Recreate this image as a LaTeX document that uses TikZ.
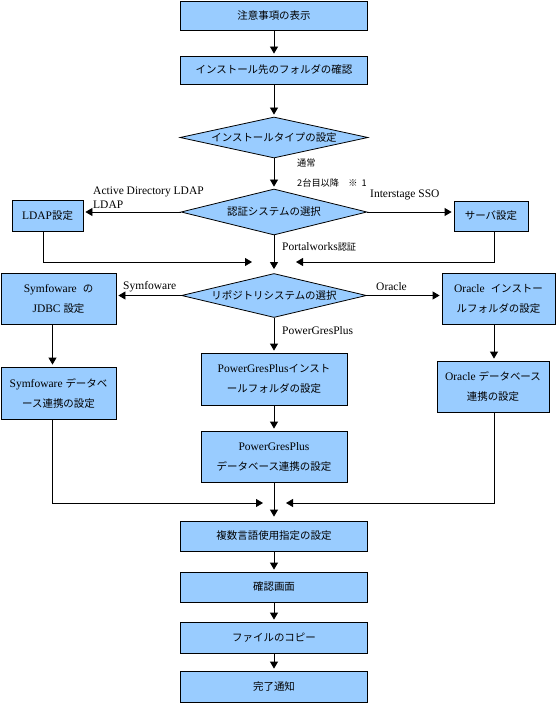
\documentclass[tikz,border=0pt]{standalone}
\usepackage{fontspec}
\setmainfont{Liberation Serif}
\newfontfamily\jp{Noto Sans CJK JP}[Scale=0.91]
\newfontfamily\jps{Noto Sans CJK JP}[Scale=0.8]
\newcommand\J[1]{{\jp #1}}
\newcommand\Js[1]{{\jps #1}}
\usetikzlibrary{shapes.geometric,arrows.meta}
\definecolor{boxblue}{HTML}{99CCFF}
\begin{document}
\begin{tikzpicture}[x=1pt,y=-1pt,
  box/.style={draw=black, fill=boxblue, line width=0.8pt, inner sep=0pt, align=center, font=\fontsize{11.5}{20}\selectfont},
  dia/.style={box, diamond, aspect=4.5},
  arr/.style={-{Triangle[width=8pt,length=7pt]}, line width=0.8pt, shorten >=2pt},
  lbl/.style={anchor=west, inner sep=0pt, font=\fontsize{11.5}{13}\selectfont}]
\useasboundingbox (0,0) rectangle (557,703);
% main column
\node[box, minimum width=187pt, minimum height=29pt] (b1) at (274,15.5) {\J{注意事項の表示}};
\node[box, minimum width=187pt, minimum height=28pt] (b2) at (274,70) {\J{インストール先のフォルダの確認}};
\node[dia, minimum width=188pt, minimum height=41pt] (d1) at (274,137.5) {\J{インストールタイプの設定}};
\node[dia, minimum width=186pt, minimum height=46pt] (d2) at (274,212) {\J{認証システムの選択}};
\node[dia, minimum width=185pt, minimum height=44pt] (d3) at (274,295.5) {\J{リポジトリシステムの選択}};
\node[box, minimum width=71pt, minimum height=31pt] (ldap) at (47.5,215.5) {LDAP\J{設定}};
\node[box, minimum width=74pt, minimum height=30pt] (srv) at (491,216) {\J{サーバ設定}};
\node[box, minimum width=115pt, minimum height=51pt] (jdbc) at (58.5,298.5) {Symfoware\hspace{6pt}\J{の}\\JDBC \J{設定}};
\node[box, minimum width=115pt, minimum height=52pt] (symdb) at (58.5,393) {Symfoware \J{データベ}\\\J{ース連携の設定}};
\node[box, minimum width=113pt, minimum height=51pt] (ora) at (498.5,298.5) {Oracle\hspace{6pt}\J{インストー}\\\J{ルフォルダの設定}};
\node[box, minimum width=112pt, minimum height=51pt] (oradb) at (493,386.5) {Oracle \J{データベース}\\\J{連携の設定}};
\node[box, minimum width=146pt, minimum height=52pt] (pg1) at (274,379) {PowerGresPlus\J{インスト}\\\J{ールフォルダの設定}};
\node[box, minimum width=146pt, minimum height=51pt] (pg2) at (274,456.5) {PowerGresPlus\\\J{データベース連携の設定}};
\node[box, minimum width=187pt, minimum height=30pt] (multi) at (274,536) {\J{複数言語使用指定の設定}};
\node[box, minimum width=187pt, minimum height=30pt] (conf) at (274,587) {\J{確認画面}};
\node[box, minimum width=187pt, minimum height=31pt] (copy) at (274,637.5) {\J{ファイルのコピー}};
\node[box, minimum width=187pt, minimum height=31pt] (done) at (274,686.5) {\J{完了通知}};
% labels
\node[lbl] (l1) at (297,163) {\Js{通常}};
\node[lbl] (l2) at (297,183) {\Js{2台目以降　※\hspace{4pt}1}};
\node[lbl] (l3) at (93,192) {Active Directory LDAP};
\node[lbl] (l4) at (93,205) {LDAP};
\node[lbl] (l5) at (370,195) {Interstage SSO};
\node[lbl] (l6) at (282,247) {Portalworks\Js{認証}};
\node[lbl] (l7) at (123,287) {Symfoware};
\node[lbl] (l8) at (376,287) {Oracle};
\node[lbl] (l9) at (282,331) {PowerGresPlus};
% connectors
\draw[arr] (b1.south) -- (b2.north);
\draw[arr] (b2.south) -- (d1.north);
\draw[arr] (d1.south) -- (d2.north);
\draw[arr] (d2.west) -- (d2.west -| ldap.east);
\draw[arr] (d2.east) -- (d2.east -| srv.west);
\draw[arr, shorten >=4pt] (d2.south) -- (d3.north);
\coordinate (m1) at (252,262);
\coordinate (m2) at (296,262);
\draw[arr, shorten >=0pt] ([xshift=-4.5pt]ldap.south) |- (m1);
\draw[arr, shorten >=0pt] ([xshift=3pt]srv.south) |- (m2);
\draw[arr] (d3.west) -- (d3.west -| jdbc.east);
\draw[arr] (d3.east) -- (d3.east -| ora.west);
\draw[arr] (d3.south) -- (pg1.north);
\draw[arr] ([xshift=-6pt]jdbc.south) -- ([xshift=-6pt]symdb.north);
\draw[arr] ([xshift=-4.5pt]ora.south) -- ([xshift=-4.5pt]ora.south |- oradb.north);
\draw[arr] (pg1.south) -- (pg2.north);
\coordinate (m3) at (263,503);
\coordinate (m4) at (286,503);
\draw[arr, shorten >=0pt] ([xshift=-6pt]symdb.south) |- (m3);
\draw[arr, shorten >=0pt] ([xshift=1.5pt]oradb.south) |- (m4);
\draw[arr, shorten >=4pt] (pg2.south) -- (multi.north);
\draw[arr] (multi.south) -- (conf.north);
\draw[arr] (conf.south) -- (copy.north);
\draw[arr] (copy.south) -- (done.north);
\end{tikzpicture}
\end{document}
